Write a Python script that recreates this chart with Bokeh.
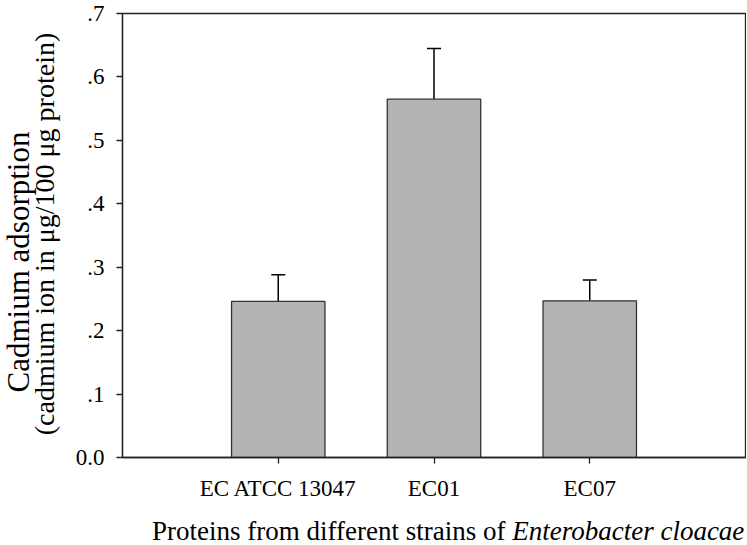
from bokeh.plotting import figure
from bokeh.layouts import column, row
from bokeh.models import (Range1d, FixedTicker, CustomJSTickFormatter, Whisker,
                          TeeHead, ColumnDataSource, Div)
from bokeh.embed import file_html
from bokeh.resources import INLINE

# ---- data ----
categories = ["EC ATCC 13047", "EC01", "EC07"]
values = [0.246, 0.565, 0.247]
errors = [0.042, 0.080, 0.033]
y_ticks = [0.0, 0.1, 0.2, 0.3, 0.4, 0.5, 0.6, 0.7]
y_title = ["Cadmium adsorption", "(cadmium ion in \u03bcg/100 \u03bcg protein)"]
x_title_plain = "Proteins from different strains of"
x_title_italic = "Enterobacter cloacae"

xs = [i + 1 for i in range(len(categories))]
src = ColumnDataSource(dict(
    x=xs, top=values,
    upper=[v + e for v, e in zip(values, errors)],
))

SERIF = "Liberation Serif"
YDIV_W = 60
PLOT_H = 505

p = figure(width=746 - YDIV_W, height=PLOT_H, output_backend="svg", toolbar_location=None,
           x_range=Range1d(0, len(categories) + 1), y_range=Range1d(0, 0.7),
           min_border_left=122 - YDIV_W, min_border_right=1, min_border_top=13,
           min_border_bottom=48)
p.background_fill_color = "white"
p.border_fill_color = "white"
p.xgrid.visible = False
p.ygrid.visible = False
p.outline_line_color = "#222222"
p.outline_line_width = 1.3

p.vbar(x="x", top="top", width=0.6, bottom=0, source=src,
       fill_color="#b4b4b4", line_color="#333333", line_width=1.3)

w = Whisker(base="x", lower="top", upper="upper", source=src,
            dimension="height", line_color="black", line_width=1.5,
            upper_head=TeeHead(size=14, line_color="black", line_width=1.5),
            lower_head=None)
p.add_layout(w)

for ax in (p.xaxis[0], p.yaxis[0]):
    ax.axis_line_color = "#222222"
    ax.axis_line_width = 1.3
    ax.major_tick_line_color = "#222222"
    ax.major_tick_line_width = 1.3
    ax.major_tick_out = 6
    ax.major_tick_in = 0
    ax.minor_tick_line_color = None
    ax.major_label_text_font = SERIF
    ax.major_label_text_font_size = "23px"
    ax.major_label_text_color = "black"

p.xaxis.ticker = FixedTicker(ticks=xs)
p.xaxis.major_label_overrides = {x: c for x, c in zip(xs, categories)}
p.xaxis.major_label_standoff = 12

p.yaxis.ticker = FixedTicker(ticks=y_ticks)
p.yaxis.formatter = CustomJSTickFormatter(
    code="var s = tick.toFixed(1); return Math.abs(tick) < 1e-9 ? '0.0' : s.replace(/^0/, '');")
p.yaxis.major_label_standoff = 12


def rotated(txt, cx, cy, size):
    return ('<div style="position:absolute; left:%dpx; top:%dpx; '
            'transform:translate(-50%%,-50%%) rotate(-90deg); white-space:nowrap; '
            'font-family:\'Liberation Serif\', serif; font-size:%dpx; line-height:1; color:black;">'
            '%s</div>' % (cx, cy, size, txt))


ydiv = Div(
    text=('<div style="position:relative; width:%dpx; height:%dpx;">' % (YDIV_W, PLOT_H)
          + rotated(y_title[0], 18, 262, 31)
          + rotated(y_title[1], 45, 234, 28)
          + '</div>'),
    width=YDIV_W, height=PLOT_H, margin=(0, 0, 0, 0))

xtitle = Div(
    text=('<div style="padding-left:152px; padding-top:13px; font-family:\'Liberation Serif\', serif; '
          'font-size:27px; line-height:1; white-space:nowrap; color:black;">'
          + x_title_plain + ' <i>' + x_title_italic + '</i></div>'),
    width=746, height=39, margin=(0, 0, 0, 0))

layout = column(row(ydiv, p, spacing=0), xtitle, spacing=0)
open("out.html", "w").write(file_html(layout, INLINE))
